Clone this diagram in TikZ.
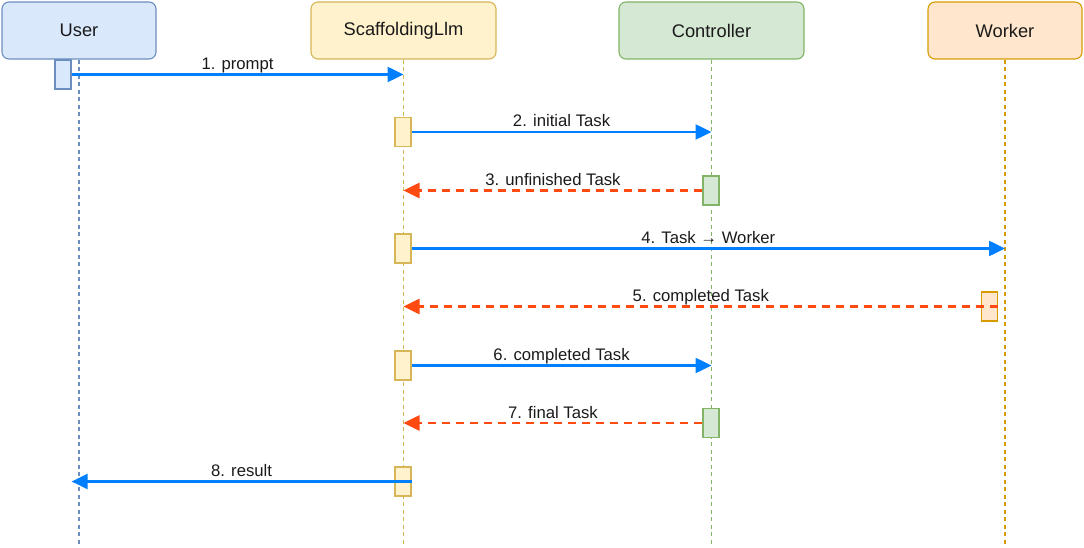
\documentclass[tikz,border=0pt]{standalone}
\usepackage{fontspec}
\setmainfont{Liberation Sans}
\usetikzlibrary{arrows.meta}
\definecolor{userD}{HTML}{6C8EBF}\definecolor{userF}{HTML}{DAE8FC}
\definecolor{scafD}{HTML}{D6B656}\definecolor{scafF}{HTML}{FFF2CC}
\definecolor{ctrlD}{HTML}{82B366}\definecolor{ctrlF}{HTML}{D5E8D4}
\definecolor{workD}{HTML}{D79B00}\definecolor{workF}{HTML}{FFE6CC}
\definecolor{callblue}{HTML}{007FFF}
\definecolor{replyred}{HTML}{FF4A12}
\definecolor{txt}{HTML}{1A1A1A}
\tikzset{
  userc/.style={draw=userD, fill=userF},
  scafc/.style={draw=scafD, fill=scafF},
  ctrlc/.style={draw=ctrlD, fill=ctrlF},
  workc/.style={draw=workD, fill=workF},
  head/.style={rounded corners=7pt, line width=1.1pt, minimum height=57pt, inner sep=0pt, text=txt, font=\fontsize{18.3}{22}\selectfont},
  actbar/.style={line width=1.2pt, minimum width=16pt, minimum height=29pt, inner sep=0pt},
  life/.style={line width=1.4pt, dash pattern=on 4pt off 3.5pt},
  callarrow/.style={draw=callblue, line width=2.5pt, -{Triangle[length=16pt,width=15pt]}},
  replyarrow/.style={draw=replyred, line width=2.6pt, dash pattern=on 8pt off 6pt, -{Triangle[length=16pt,width=15pt]}},
  lbl/.style={midway, anchor=base, yshift=5pt, inner sep=0pt, text=txt, font=\fontsize{16.7}{20}\selectfont},
}
\begin{document}
\begin{tikzpicture}[x=1pt, y=-1pt]
\useasboundingbox (0,0) rectangle (1084,548);
% headers
\node[head, userc, minimum width=154pt] (user) at (79,30.5) {User};
\node[head, scafc, minimum width=185pt] (scaf) at (403.5,30.5) {ScaffoldingLlm};
\node[head, ctrlc, minimum width=185pt] (ctrl) at (711.5,30.5) {Controller};
\node[head, workc, minimum width=154pt] (work) at (1005,30.5) {Worker};
\coordinate (bottom) at (0,546);
% lifelines
\draw[life, draw=userD] (user.south) -- (user.south |- bottom);
\draw[life, draw=scafD] (scaf.south) -- (scaf.south |- bottom);
\draw[life, draw=ctrlD] (ctrl.south) -- (ctrl.south |- bottom);
\draw[life, draw=workD] (work.south) -- (work.south |- bottom);
% activation bars
\node[actbar, userc] (u1) at (63,74.5) {};
\node[actbar, scafc] (s2) at (403,132) {};
\node[actbar, ctrlc] (c3) at (711,190.5) {};
\node[actbar, scafc] (s4) at (403,248.5) {};
\node[actbar, workc] (w5) at (989.5,306.5) {};
\node[actbar, scafc] (s6) at (403,365.5) {};
\node[actbar, ctrlc] (c7) at (711,423) {};
\node[actbar, scafc] (s8) at (403,481.5) {};
% messages
\draw[callarrow] (u1.east) -- node[lbl] {1. prompt} (u1.east -| scaf.south);
\draw[callarrow] (s2.east) -- node[lbl] {2. initial Task} (s2.east -| ctrl.south);
\draw[replyarrow] (c3.west) -- node[lbl] {3. unfinished Task} (c3.west -| scaf.south);
\draw[callarrow] (s4.east) -- node[lbl] {4. Task → Worker} (s4.east -| work.south);
\draw[replyarrow] (w5.east) -- node[lbl] {5. completed Task} (w5.east -| scaf.south);
\draw[callarrow] (s6.east) -- node[lbl] {6. completed Task} (s6.east -| ctrl.south);
\draw[replyarrow] (c7.west) -- node[lbl] {7. final Task} (c7.west -| scaf.south);
\draw[callarrow] (s8.east) -- node[lbl] {8. result} (s8.east -| u1.east);
\end{tikzpicture}
\end{document}
